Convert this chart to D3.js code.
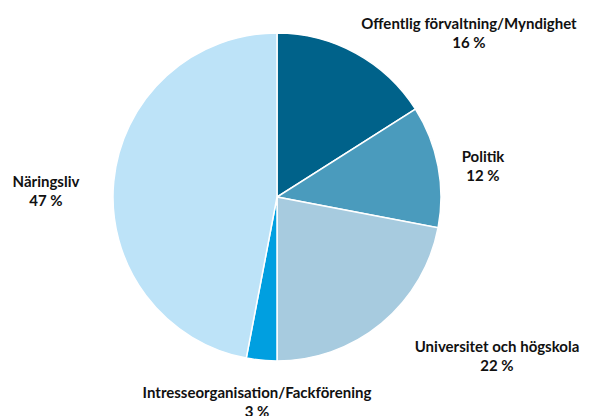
<!DOCTYPE html>
<html>
<head>
<meta charset="utf-8">
<script src="https://cdn.jsdelivr.net/npm/d3@7"></script>
<style>
  body { margin: 0; background: #fff; }
  text { font-family: Lato, "Open Sans", sans-serif; font-weight: bold; font-size: 15px; fill: #111; }
</style>
</head>
<body>
<svg id="chart" width="593" height="416"></svg>
<script>
const categories = ["Offentlig förvaltning/Myndighet", "Politik", "Universitet och högskola", "Intresseorganisation/Fackförening", "Näringsliv"];
const values = [16, 12, 22, 3, 47];
const colors = ["#00628a", "#4a9bbd", "#a7cbdf", "#009fe0", "#bde3f8"];
// label anchor positions (centre of text block)
const labelPos = [[469, 24], [483, 157], [497, 347], [257, 393], [46, 182]];

const svg = d3.select("#chart");
const cx = 277, cy = 197, r = 164;

const pie = d3.pie().sort(null).value(d => d.value);
const arc = d3.arc().innerRadius(0).outerRadius(r);
const data = categories.map((c, i) => ({ name: c, value: values[i], color: colors[i] }));

const g = svg.append("g").attr("transform", `translate(${cx},${cy})`);
g.selectAll("path")
  .data(pie(data))
  .join("path")
    .attr("d", arc)
    .attr("fill", d => d.data.color)
    .attr("stroke", "#fff")
    .attr("stroke-width", 1.5);

const labels = svg.selectAll("g.label")
  .data(data)
  .join("g")
    .attr("class", "label")
    .attr("transform", (d, i) => `translate(${labelPos[i][0]},${labelPos[i][1]})`);
labels.append("text")
  .attr("text-anchor", "middle")
  .attr("dy", "0.35em")
  .text(d => d.name);
labels.append("text")
  .attr("text-anchor", "middle")
  .attr("y", 19)
  .attr("dy", "0.35em")
  .text(d => d.value + " %");
</script>
</body>
</html>
